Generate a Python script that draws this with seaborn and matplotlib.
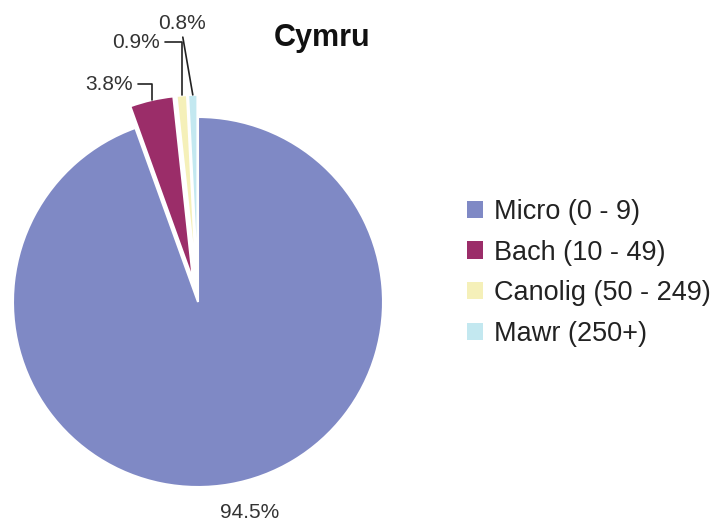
import numpy as np
import matplotlib
matplotlib.use("Agg")
import matplotlib.pyplot as plt
import seaborn as sns
from matplotlib.patches import Patch

# === DATOS ===
categories = ["Micro (0 - 9)", "Bach (10 - 49)", "Canolig (50 - 249)", "Mawr (250+)"]
shares = [94.5, 3.8, 0.9, 0.8]
pct_labels = ["94.5%", "3.8%", "0.9%", "0.8%"]
title = "Cymru"

colors = ["#7f89c5", "#9b2d69", "#f5f0b9", "#c3e8f0"]
explode = [0, 0.12, 0.12, 0.12]

sns.set_theme(style="white")
plt.rcParams["font.family"] = ["Liberation Sans", "DejaVu Sans"]

W, H, DPI = 715, 525, 100
fig = plt.figure(figsize=(W / DPI, H / DPI), dpi=DPI)

# pie centre at (198, 302) px, radius 185 px
cx, cy, R = 198, 302, 185
ax = fig.add_axes([0, 0, 430 / W, 1])
wedges, _ = ax.pie(shares, colors=colors, startangle=90, counterclock=False,
                   explode=explode, radius=1,
                   wedgeprops=dict(edgecolor="white", linewidth=1.5))
ax.set_xlim((0 - cx) / R, (430 - cx) / R)
ax.set_ylim((cy - H) / R, cy / R)
ax.set_aspect("equal")
ax.axis("off")


def px(x, y):
    return ((x - cx) / R, (cy - y) / R)


def arc_point(w):
    t = np.deg2rad((w.theta1 + w.theta2) / 2)
    return (w.center[0] + w.r * np.cos(t), w.center[1] + w.r * np.sin(t))


# === ETIQUETAS ===
lkw = dict(fontsize=15, color="#333333")
line = dict(arrowstyle="-", color="#222222", lw=1.2, shrinkA=1, shrinkB=0)

ax.text(*px(250, 512), pct_labels[0], ha="center", va="center", **lkw)

ax.annotate(pct_labels[1], xy=arc_point(wedges[1]), xytext=px(133, 84),
            ha="right", va="center",
            arrowprops=dict(connectionstyle="angle,angleA=0,angleB=90,rad=0",
                            relpos=(1, 0.5), **line), **lkw)
ax.annotate(pct_labels[2], xy=arc_point(wedges[2]), xytext=px(160, 42),
            ha="right", va="center",
            arrowprops=dict(connectionstyle="angle,angleA=0,angleB=90,rad=0",
                            relpos=(1, 0.5), **line), **lkw)
ax.annotate(pct_labels[3], xy=arc_point(wedges[3]), xytext=px(182, 23),
            ha="center", va="center",
            arrowprops=dict(relpos=(0.5, 0), **line), **lkw)

fig.text(322 / W, 1 - 38 / H, title, ha="center", va="center",
         fontsize=22, fontweight="bold", color="#111111")

# === LEYENDA ===
handles = [Patch(facecolor=c, edgecolor="none") for c in colors]
fig.legend(handles, categories, loc="upper left",
           bbox_to_anchor=(467 / W, 1 - 199 / H), frameon=False,
           fontsize=19.5, handlelength=0.6, handleheight=0.6,
           handletextpad=0.4, labelspacing=0.54, borderpad=0,
           borderaxespad=0, labelcolor="#222222")

fig.savefig("out.png", dpi=DPI)
